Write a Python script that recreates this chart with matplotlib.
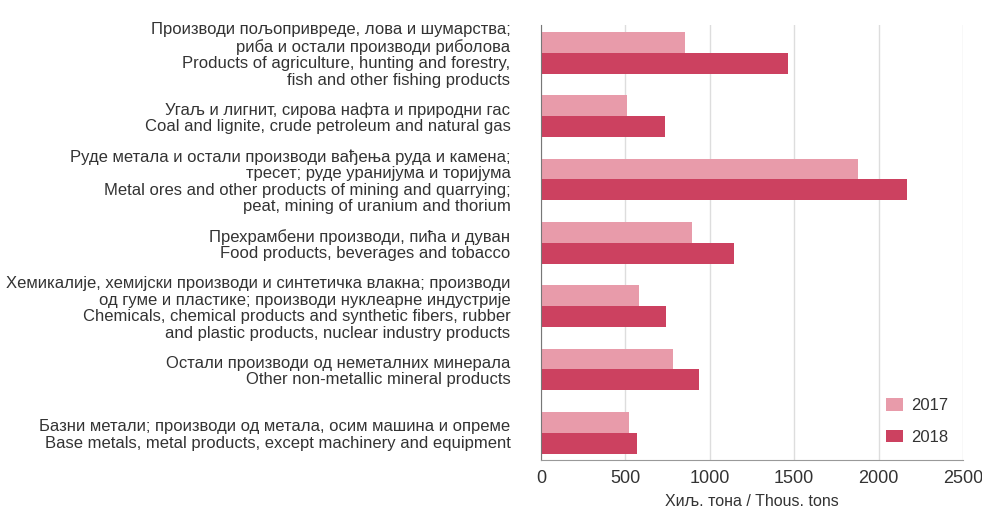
import matplotlib
matplotlib.use("Agg")
from matplotlib import pyplot as plt
import numpy as np

plt.rcParams['font.family'] = ['Liberation Sans', 'DejaVu Sans']

categories = [
    "Производи пољопривреде, лова и шумарства;\nриба и остали производи риболова\nProducts of agriculture, hunting and forestry,\nfish and other fishing products",
    "Угаљ и лигнит, сирова нафта и природни гас\nCoal and lignite, crude petroleum and natural gas",
    "Руде метала и остали производи вађења руда и камена;\nтресет; руде уранијума и торијума\nMetal ores and other products of mining and quarrying;\npeat, mining of uranium and thorium",
    "Прехрамбени производи, пића и дуван\nFood products, beverages and tobacco",
    "Хемикалије, хемијски производи и синтетичка влакна; производи\nод гуме и пластике; производи нуклеарне индустрије\nChemicals, chemical products and synthetic fibers, rubber\nand plastic products, nuclear industry products",
    "Остали производи од неметалних минерала\nOther non-metallic mineral products",
    "Базни метали; производи од метала, осим машина и опреме\nBase metals, metal products, except machinery and equipment",
]
v2017 = [855, 511, 1880, 896, 582, 780, 521]
v2018 = [1465, 733, 2170, 1143, 742, 934, 570]

c2017 = "#E89BAA"
c2018 = "#CC4160"
txt = "#333333"

fig = plt.figure(figsize=(9.82, 5.09), dpi=100)
ax = fig.add_axes([541/982, 1-460/509, 422/982, 435/509])

y = np.arange(len(categories))
h = 0.33
ax.barh(y - h/2, v2017, height=h, color=c2017, label="2017")
ax.barh(y + h/2, v2018, height=h, color=c2018, label="2018")

ax.set_ylim(6.43, -0.44)
ax.set_xlim(0, 2500)
ax.set_xticks([0, 500, 1000, 1500, 2000, 2500])
ax.set_yticks(y)
ax.set_yticklabels(categories, fontsize=12, color=txt, linespacing=1.12)
ax.tick_params(axis='y', length=0, pad=22)
ax.tick_params(axis='x', length=0, labelsize=13, labelcolor=txt, pad=7)
ax.grid(axis='x', color="#DDDDDD", linewidth=1)
ax.set_axisbelow(True)
for s in ['top', 'right']:
    ax.spines[s].set_visible(False)
ax.spines['left'].set_color("#777777")
ax.spines['bottom'].set_color("#999999")
ax.set_xlabel("Хиљ. тона / Thous. tons", fontsize=11.5, color=txt, labelpad=5)

ax.legend(loc='lower right', bbox_to_anchor=(1.0, 0.0), frameon=False,
          fontsize=12, labelspacing=1.0, handlelength=1.0, handleheight=0.75,
          handletextpad=0.5, labelcolor=txt)

fig.savefig("out.png", dpi=100)
